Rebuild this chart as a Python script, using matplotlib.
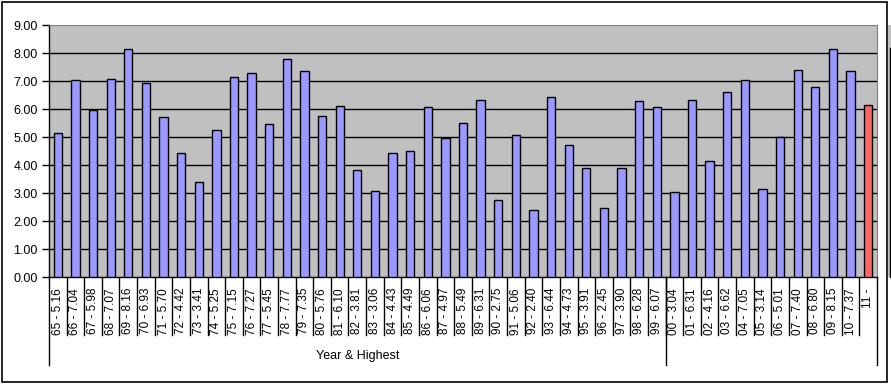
import matplotlib
matplotlib.use("Agg")
import matplotlib.pyplot as plt
from matplotlib.patches import Rectangle
from matplotlib.lines import Line2D
import matplotlib.transforms as mtransforms

years = ["65", "66", "67", "68", "69", "70", "71", "72", "73", "74", "75", "76",
         "77", "78", "79", "80", "81", "82", "83", "84", "85", "86", "87", "88",
         "89", "90", "91", "92", "93", "94", "95", "96", "97", "98", "99",
         "00", "01", "02", "03", "04", "05", "06", "07", "08", "09", "10", "11"]
highest = [5.16, 7.04, 5.98, 7.07, 8.16, 6.93, 5.70, 4.42, 3.41, 5.25, 7.15, 7.27,
           5.45, 7.77, 7.35, 5.76, 6.10, 3.81, 3.06, 4.43, 4.49, 6.06, 4.97, 5.49,
           6.31, 2.75, 5.06, 2.40, 6.44, 4.73, 3.91, 2.45, 3.90, 6.28, 6.07,
           3.04, 6.31, 4.16, 6.62, 7.05, 3.14, 5.01, 7.40, 6.80, 8.15, 7.37, 6.15]
tick_labels = [f"{y} - {v:.2f}" for y, v in zip(years, highest)]
tick_labels[-1] = "11 -"
group_names = ["Year & Highest", ""]
group_sizes = [35, 12]
axis_title = ""

plt.rcParams['font.family'] = ['Liberation Sans', 'DejaVu Sans']

W, H = 891, 384
fig = plt.figure(figsize=(W / 100, H / 100), dpi=100)
fig.patch.set_facecolor("white")

# figure border (chart area)
fig.add_artist(Rectangle((1.5 / W, 1 - 381.5 / H), 885 / W, 380 / H,
                         transform=fig.transFigure, fill=False, ec="black", lw=1.2))
# partial neighbouring chart at the right edge
fig.add_artist(Rectangle((888 / W, 1 - 277 / H), 3 / W, 252 / H,
                         transform=fig.transFigure, fc="#C0C0C0", ec="none"))
fig.add_artist(Line2D([889.5 / W, 889.5 / W], [1 - 277 / H, 1 - 48 / H],
                      transform=fig.transFigure, color="black", lw=1))

left, right, top, bottom = 49, 877, 25, 277
ax = fig.add_axes([left / W, 1 - bottom / H, (right - left) / W, (bottom - top) / H])
ax.set_facecolor("#C0C0C0")

n = len(highest)
xs = list(range(n))
colors = ["#9999FF"] * (n - 1) + ["#FF6666"]
ax.bar(xs, highest, width=0.47, color=colors, edgecolor="black", linewidth=1.0, zorder=3)

ax.set_xlim(-0.5, n - 0.5)
ax.set_ylim(0, 9)
ax.set_yticks(range(0, 10))
ax.set_yticklabels([f"{v:.2f}" for v in range(0, 10)], fontsize=9)
for yv in range(1, 9):
    ax.axhline(yv, color="black", lw=1, zorder=1)
ax.tick_params(axis="y", direction="out", length=5, width=1, pad=3, colors="black")
ax.set_xticks([])

for s in ["top", "right"]:
    ax.spines[s].set_color("#808080")
for s in ["left", "bottom"]:
    ax.spines[s].set_color("black")
    ax.spines[s].set_linewidth(1.0)

trans = mtransforms.blended_transform_factory(ax.transData, ax.transAxes)
axh = bottom - top
short_y = -(335 - bottom) / axh
long_y = -(365 - bottom) / axh
label_y = -(288 - bottom) / axh

for i, lab in enumerate(tick_labels):
    ax.text(i, label_y, lab, rotation=90, ha="center", va="top", fontsize=8.5,
            transform=trans, clip_on=False)

for i in range(n - 1):
    ax.add_line(Line2D([i + 0.5, i + 0.5], [0, short_y], transform=trans,
                       color="black", lw=1, clip_on=False))

start = -0.5
bounds = [start]
for g in group_sizes:
    start += g
    bounds.append(start)
for b in bounds:
    ax.add_line(Line2D([b, b], [0, long_y], transform=trans,
                       color="black", lw=1, clip_on=False))
for gi, name in enumerate(group_names):
    cx = (bounds[gi] + bounds[gi + 1]) / 2
    ax.text(cx, -(356 - bottom) / axh, name, ha="center", va="center", fontsize=9,
            transform=trans, clip_on=False)

fig.savefig("out.png", dpi=100)
